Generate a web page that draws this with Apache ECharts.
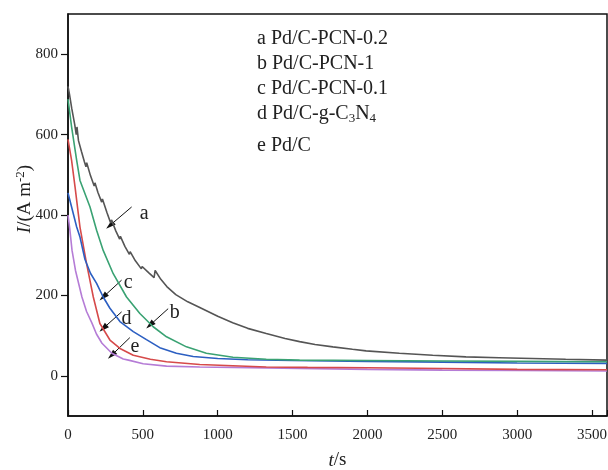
<!DOCTYPE html>
<html>
<head>
<meta charset="utf-8">
<script src="https://cdn.jsdelivr.net/npm/echarts@6/dist/echarts.min.js"></script>
<style>
  html, body { margin: 0; padding: 0; background: #fff; }
  #chart { width: 608px; height: 470px; }
</style>
</head>
<body>
<div id="chart"></div>
<script>
// curve a: Pd/C-PCN-0.2 (sawtooth decay)
var timeA = [0, 10, 25, 45, 55, 60, 70, 90, 110, 120, 125, 150, 175, 180, 200, 225, 230, 260, 285, 290, 320, 345, 350, 380, 410, 415, 450, 490, 495, 540, 575, 582, 620, 660, 720, 800, 880, 1000, 1100, 1200, 1324, 1450, 1547, 1650, 1769, 1900, 1991, 2213, 2436, 2658, 2880, 3100, 3324, 3600];
var valA = [720, 700, 665, 625, 600, 619, 585, 558, 532, 520, 530, 498, 472, 480, 456, 432, 440, 406, 380, 388, 360, 340, 347, 322, 302, 309, 286, 266, 272, 256, 244, 262, 240, 222, 202, 184, 170, 148, 132, 118, 105, 93, 85, 78, 72, 66, 62, 56, 51, 47, 45, 43, 41, 39];
// curve b: Pd/C-PCN-1
var timeB = [0, 24, 58, 80, 147, 191, 235, 302, 391, 480, 569, 658, 791, 924, 1102, 1324, 1547, 2000, 2500, 3000, 3600];
var valB = [688, 619, 536, 486, 420, 362, 312, 254, 196, 155, 122, 97, 72, 56, 46, 41, 39, 38, 37, 36, 35];
// curve c: Pd/C-PCN-0.1
var timeC = [0, 24, 58, 80, 113, 150, 191, 235, 280, 347, 436, 524, 613, 724, 836, 1000, 1200, 1500, 2000, 2500, 3000, 3600];
var valC = [455, 420, 370, 345, 290, 255, 230, 196, 168, 135, 110, 90, 70, 56, 48, 43, 40, 38, 36, 34, 32, 31];
// curve d: Pd/C-g-C3N4
var timeD = [0, 24, 47, 69, 80, 124, 169, 213, 280, 347, 436, 550, 658, 880, 1100, 1324, 1600, 2000, 2500, 3000, 3600];
var valD = [588, 536, 470, 403, 370, 279, 196, 130, 89, 68, 51, 41, 35, 28, 25, 22, 21, 20, 18, 16, 15];
// curve e: Pd/C
var timeE = [0, 12, 27, 50, 93, 124, 160, 190, 227, 293, 369, 404, 502, 658, 880, 1102, 1547, 2000, 2500, 3000, 3600];
var valE = [400, 365, 312, 262, 196, 160, 131, 104, 81, 56, 42, 39, 30, 24, 22, 21, 18, 16, 14, 13, 12];

var names = ['a', 'b', 'c', 'd', 'e'];
var colors = ['#555555', '#3aa273', '#2c5fc2', '#d64a4a', '#b57cd6'];
// annotation arrows: [tail t, tail I, head t, head I]
var arrows = [
  [425, 420, 280, 374],
  [669, 167, 547, 126],
  [358, 238, 235, 196],
  [358, 159, 235, 118],
  [413, 95, 291, 51]
];
// annotation letter positions [t, I]
var labelPos = [[509, 403], [713, 157], [402, 231], [391, 141], [447, 72]];
var xTicks = [0, 500, 1000, 1500, 2000, 2500, 3000, 3500];
var yTicks = [0, 200, 400, 600, 800];

function pairs(t, v) {
  return t.map(function (x, i) { return [x, v[i]]; });
}

var allTimes = [timeA, timeB, timeC, timeD, timeE];
var allVals = [valA, valB, valC, valD, valE];

var FONT = 'Liberation Serif';

var series = names.map(function (n, i) {
  var a = arrows[i];
  return {
    name: n,
    type: 'line',
    data: pairs(allTimes[i], allVals[i]),
    showSymbol: false,
    lineStyle: { color: colors[i], width: 1.6 },
    itemStyle: { color: colors[i] },
    z: 10 - i,
    markLine: {
      silent: true,
      symbol: ['none', 'triangle'],
      symbolSize: [6, 10],
      lineStyle: { color: '#111', width: 1, type: 'solid' },
      itemStyle: { color: '#111' },
      label: { show: false },
      data: [[{ coord: [a[0], a[1]] }, { coord: [a[2], a[3]] }]]
    },
    markPoint: {
      silent: true,
      symbol: 'circle',
      symbolSize: 0,
      label: {
        show: true,
        position: 'inside',
        formatter: n,
        color: '#222',
        fontFamily: FONT,
        fontSize: 20
      },
      data: [{ coord: labelPos[i] }]
    }
  };
});

var chart = echarts.init(document.getElementById('chart'));
chart.setOption({
  backgroundColor: '#fff',
  animation: false,
  title: {
    left: 252,
    top: 21,
    text: '{t|a Pd/C-PCN-0.2}\n{t|b Pd/C-PCN-1}\n{t|c Pd/C-PCN-0.1}\n{t|d Pd/C-g-C}{s|3}{t|N}{s|4}\n{e|e Pd/C}',
    textStyle: {
      fontWeight: 'normal',
      rich: {
        t: { fontFamily: FONT, fontSize: 20, fontWeight: 'normal', color: '#222', lineHeight: 25 },
        s: { fontFamily: FONT, fontSize: 13, fontWeight: 'normal', color: '#222', lineHeight: 25, padding: [11, 0, 0, 0] },
        e: { fontFamily: FONT, fontSize: 20, fontWeight: 'normal', color: '#222', lineHeight: 32, padding: [8, 0, 0, 0] }
      }
    }
  },
  grid: {
    left: 68, right: 1, top: 14, bottom: 54,
    show: true, borderColor: '#111', borderWidth: 1.5,
    containLabel: false,
    outerBoundsMode: 'none'
  },
  xAxis: {
    type: 'value',
    min: 0, max: 3600, interval: 500,
    name: '{i|t}/s',
    nameLocation: 'middle',
    nameGap: 35,
    nameTextStyle: {
      fontFamily: FONT, fontSize: 19, color: '#222',
      rich: { i: { fontFamily: FONT, fontSize: 19, fontStyle: 'italic', color: '#222' } }
    },
    axisLine: { show: true, onZero: false, lineStyle: { color: '#111', width: 1.5 } },
    axisTick: { show: true, inside: true, length: 6, lineStyle: { color: '#111', width: 1.2 } },
    axisLabel: {
      fontFamily: FONT, fontSize: 15, color: '#222', margin: 12,
      formatter: function (v) { return xTicks.indexOf(v) >= 0 ? String(v) : ''; }
    },
    splitLine: { show: false }
  },
  yAxis: {
    type: 'value',
    min: -100, max: 900, interval: 100,
    name: '{i|I}/(A m{u|-2})',
    nameLocation: 'middle',
    nameGap: 32,
    nameRotate: 90,
    nameMoveOverlap: false,
    nameTextStyle: {
      fontFamily: FONT, fontSize: 19, color: '#222',
      padding: [0, 0, 0, 32],
      rich: {
        i: { fontFamily: FONT, fontSize: 19, fontStyle: 'italic', color: '#222' },
        u: { fontFamily: FONT, fontSize: 13, color: '#222', padding: [0, 0, 9, 0] }
      }
    },
    axisLine: { show: true, onZero: false, lineStyle: { color: '#111', width: 1.5 } },
    axisTick: {
      show: true, length: 7, lineStyle: { color: '#111', width: 1.2 },
      customValues: yTicks
    },
    axisLabel: {
      fontFamily: FONT, fontSize: 15, color: '#222', margin: 10,
      customValues: yTicks
    },
    splitLine: { show: false }
  },
  series: series
});
</script>
</body>
</html>
